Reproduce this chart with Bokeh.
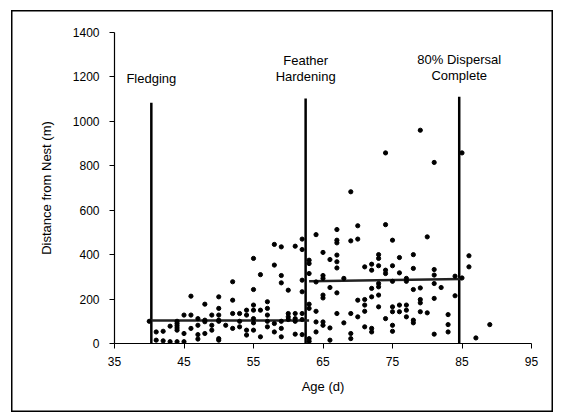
from bokeh.plotting import figure
from bokeh.models import Range1d, Label, FixedTicker
from bokeh.embed import file_html
from bokeh.resources import INLINE

# ---- data ----
age = [40,
       41, 41, 42, 42, 43, 43,
       44, 44, 44, 44, 44, 44,
       45, 45, 45, 46, 46, 46,
       47, 47, 47, 47, 48, 48, 48, 48,
       49, 49, 49, 50, 50, 50, 50, 50, 50, 50,
       51, 52, 52, 52, 52, 53, 53, 53,
       54, 54, 54, 54, 55, 55, 55, 55, 55, 55, 55,
       56, 56, 56, 57, 57, 57, 57, 57,
       58, 58, 58, 58, 59, 59, 59, 59, 59, 59,
       60, 60, 60, 60, 61, 61, 61, 61, 61,
       62, 62, 62, 62, 62, 62, 62,
       63, 63, 63, 63, 63, 63, 63,
       64, 64, 64, 64, 64,
       65, 65, 65, 65, 65, 65, 65,
       66, 66, 66, 66,
       67, 67, 67, 67, 67, 67, 67, 67,
       68, 68, 69, 69, 69, 69, 69,
       70, 70, 70, 70, 71, 71, 71, 71, 71,
       72, 72, 72, 72, 72, 72,
       73, 73, 73, 73, 73, 73, 73,
       74, 74, 74, 74, 74,
       75, 75, 75, 75, 75, 75, 75,
       76, 76, 76, 76, 77, 77, 77, 77, 77,
       78, 78, 78, 78, 78, 79, 79, 79, 79, 79,
       80, 80, 81, 81, 81, 81, 81, 81,
       82, 83, 83, 83, 84, 84, 85, 85, 86, 86, 87, 89]
distance = [100,
            52, 15, 55, 12, 78, 8,
            100, 90, 80, 70, 60, 8,
            128, 45, 8, 213, 128, 68,
            112, 82, 40, 20, 177, 105, 98, 45,
            128, 82, 60, 210, 158, 128, 105, 100, 22, 15,
            82, 278, 195, 135, 68, 135, 100, 75,
            150, 128, 60, 38, 383, 243, 173, 150, 112, 93, 60,
            310, 150, 30, 188, 158, 128, 100, 75,
            446, 353, 90, 52, 435, 306, 273, 100, 68, 30,
            240, 135, 120, 108, 438, 135, 112, 100, 42,
            470, 423, 285, 233, 135, 108, 40,
            375, 360, 315, 177, 158, 22, 10,
            490, 277, 145, 97, 52,
            410, 306, 293, 218, 205, 97, 82,
            378, 252, 70, 15,
            513, 465, 453, 398, 368, 340, 228, 135,
            293, 93, 683, 462, 135, 45, 22,
            530, 470, 195, 120, 345, 198, 173, 145, 75,
            357, 330, 248, 210, 68, 52,
            400, 383, 350, 270, 255, 218, 165,
            858, 535, 330, 315, 112,
            465, 350, 280, 165, 143, 82, 55,
            387, 318, 173, 143, 293, 280, 173, 150, 120,
            400, 338, 243, 105, 93, 960, 250, 198, 183, 143,
            480, 138, 815, 333, 308, 270, 203, 42,
            252, 130, 85, 52, 303, 215, 858, 295, 395, 345, 25, 85]

# stage boundaries (vertical lines)
event_age = [40.3, 62.5, 84.6]
event_top = [1084, 1103, 1111]
event_names = [["Fledging"], ["Feather", "Hardening"], ["80% Dispersal", "Complete"]]

# mean distance per stage (horizontal lines)
mean_x0 = [39.9, 63.0]
mean_x1 = [63.0, 85.0]
mean_y0 = [104, 280]
mean_y1 = [104, 290]

x_ticks = [35, 45, 55, 65, 75, 85, 95]
y_ticks = [0, 200, 400, 600, 800, 1000, 1200, 1400]

FONT = "Liberation Sans"

p = figure(width=554, height=414, output_backend="svg", toolbar_location=None,
           x_range=Range1d(35, 95), y_range=Range1d(0, 1400),
           min_border_left=114, min_border_right=23, min_border_top=32,
           min_border_bottom=71)
p.outline_line_color = None
p.grid.visible = False
p.background_fill_color = None
p.border_fill_color = None
# thin frame around the whole picture (inset 11/10 left/top, 1/2 right/bottom)
p.stylesheets = [
    ":host { box-shadow: inset 5px 4px 0 6px white, inset 5px 4px 0 7.5px black; }"
]

for ax in (p.xaxis[0], p.yaxis[0]):
    ax.axis_line_color = "black"
    ax.axis_line_width = 1.2
    ax.major_tick_line_color = "black"
    ax.major_tick_in = 0
    ax.major_tick_out = 5
    ax.minor_tick_line_color = None
    ax.major_label_text_font = FONT
    ax.major_label_text_font_size = "12px"
    ax.major_label_text_color = "black"
    ax.axis_label_text_font = FONT
    ax.axis_label_text_font_size = "13px"
    ax.axis_label_text_font_style = "normal"
    ax.axis_label_text_color = "black"

p.xaxis.ticker = FixedTicker(ticks=x_ticks)
p.yaxis.ticker = FixedTicker(ticks=y_ticks)
p.xaxis.axis_label = "Age (d)"
p.yaxis.axis_label = "Distance from Nest (m)"
p.xaxis.major_label_standoff = 8
p.yaxis.major_label_standoff = 10
p.xaxis.axis_label_standoff = 10
p.yaxis.axis_label_standoff = 16

# vertical event lines
p.segment(x0=event_age, y0=[0] * len(event_age), x1=event_age, y1=event_top,
          line_color="black", line_width=2.5)

# mean lines
p.segment(x0=mean_x0, y0=mean_y0, x1=mean_x1, y1=mean_y1,
          line_color="#222222", line_width=2.5)

# points
p.scatter(age, distance, size=4.2, color="black")

# event labels
label_offsets = [[1192], [1272, 1200], [1280, 1208]]
for xa, names, ys in zip(event_age, event_names, label_offsets):
    for name, yy in zip(names, ys):
        p.add_layout(Label(x=xa, y=yy, text=name, text_align="center",
                           text_baseline="alphabetic", text_font=FONT,
                           text_font_size="13px", text_color="black"))

open("out.html", "w").write(file_html(p, INLINE))
